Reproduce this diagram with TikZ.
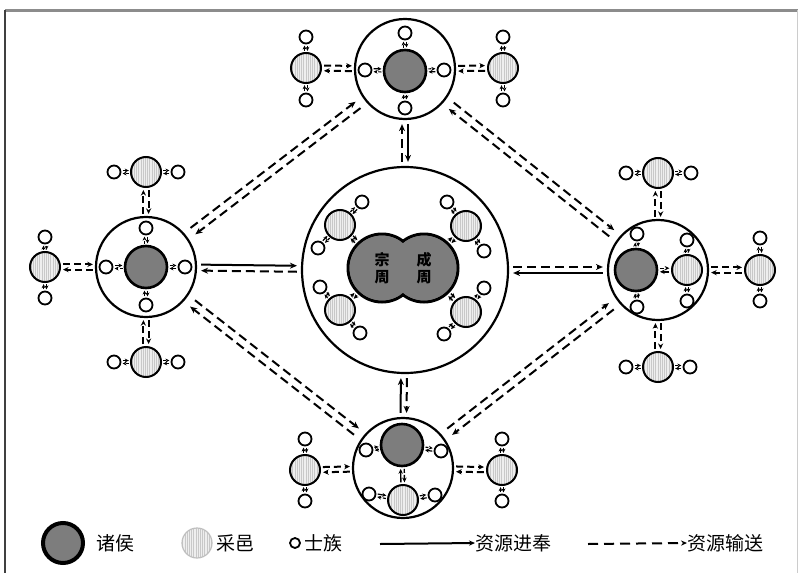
\documentclass[tikz,border=0pt]{standalone}
\usepackage{fontspec}
\setmainfont{Noto Sans CJK SC}
\usetikzlibrary{arrows.meta,calc,patterns.meta}

\definecolor{hougray}{RGB}{125,125,125}
\definecolor{yigray}{RGB}{238,238,238}
\definecolor{yistripe}{RGB}{200,200,200}
\definecolor{framegray}{RGB}{140,140,140}

\tikzset{
  guo/.style={circle, draw, line width=1.1pt, minimum size=50pt, inner sep=0pt},
  hou/.style={circle, draw, line width=1.3pt, fill=hougray, minimum size=21pt, inner sep=0pt},
  yi/.style={circle, draw, line width=1pt, minimum size=15pt, inner sep=0pt, preaction={fill=yigray},
    pattern={Lines[angle=90,distance=1.1pt,line width=0.3pt]}, pattern color=yistripe},
  shi/.style={circle, draw, line width=0.9pt, fill=white, minimum size=6.5pt, inner sep=0pt},
  zhou/.style={align=center, inner sep=0pt, font=\bfseries\fontsize{7.5pt}{8.5pt}\selectfont},
  jin/.style={line width=1pt, -{Stealth[length=3.5pt,width=3pt]}, shorten <=2pt, shorten >=2pt},
  song/.style={jin, dash pattern=on 4.5pt off 2.5pt},
  songjiao/.style={song, shorten <=4pt, shorten >=4pt},
  songmid/.style={line width=1pt, -{Stealth[length=2.8pt,width=2.6pt]}, dash pattern=on 3.5pt off 2pt, shorten <=1pt, shorten >=1pt},
  jinsm/.style={line width=0.7pt, -{Stealth[length=2.4pt,width=2.2pt]}, shorten <=0.8pt, shorten >=0.8pt},
  songsm/.style={jinsm, dash pattern=on 2pt off 1pt},
  jinxs/.style={line width=0.6pt, -{Stealth[length=2pt,width=1.9pt]}, shorten <=0.6pt, shorten >=0.6pt},
  songxs/.style={jinxs, dash pattern=on 1.5pt off 0.8pt},
  legendtext/.style={anchor=west, inner sep=0pt, font=\fontsize{9.5pt}{11pt}\selectfont},
}

% #1 lower node, #2 upper node, #3 style up, #4 style down, #5 half gap
\newcommand\liu[5]{%
  \path let \p1=($(#1.east)-(#1.center)$), \p2=($(#2.east)-(#2.center)$) in
    ($(#1)!\x1!(#2)!#5!90:(#2)$) coordinate (la)
    ($(#2)!\x2!(#1)!#5!-90:(#1)$) coordinate (lb)
    ($(#1)!\x1!(#2)!#5!-90:(#2)$) coordinate (lc)
    ($(#2)!\x2!(#1)!#5!90:(#1)$) coordinate (ld);
  \draw[#3] (la) -- (lb);
  \draw[#4] (ld) -- (lc);
}

\begin{document}
\begin{tikzpicture}[x=0.5pt,y=-0.5pt]
\useasboundingbox (0,0) rectangle (798,573);
% frame
\draw[framegray, line width=1.5pt] (5,10) -- (798,10);
\draw[black!75, line width=0.8pt] (5,10) -- (5,573);
\draw[black!20, line width=0.5pt] (797,10) -- (797,573);

% centre
\node[guo, minimum size=103pt] (wangji) at (405,270) {};
\node[hou, minimum size=34pt, line width=1.5pt] (zl) at (382,268) {};
\node[hou, minimum size=34pt, line width=1.5pt] (zr) at (424,268) {};
\fill[hougray] (zl.center) circle[radius=16.2pt] (zr.center) circle[radius=16.2pt];
\node[zhou] (zongzhou) at (zl) {宗\\周};
\node[zhou] (chengzhou) at (zr) {成\\周};
\node[yi] (yC1) at (340,225) {};
\node[yi] (yC2) at (466,226) {};
\node[yi] (yC3) at (340,310) {};
\node[yi] (yC4) at (466,312) {};
\foreach \n/\x/\y in {sC1/362/202,sC2/318/248,sC3/447/202,sC4/484/251,sC5/320/287,sC6/360/333,sC7/484/288,sC8/444/334}
  \node[shi] (\n) at (\x,\y) {};
\foreach \a/\b in {yC1/zl,yC2/zr,yC3/zl,yC4/zr} \liu{\a}{\b}{jinsm}{songsm}{0.9pt};
\foreach \a/\b in {sC1/yC1,sC2/yC1,sC3/yC2,sC4/yC2,sC5/yC3,sC6/yC3,sC7/yC4,sC8/yC4} \liu{\a}{\b}{jinxs}{songxs}{0.75pt};

% top
\node[guo] (guoN) at (405,69) {};
\node[hou] (hN) at (405,71) {};
\node[yi] (yN1) at (306,68) {};
\node[yi] (yN2) at (503,68) {};
\foreach \n/\x/\y in {sN1/405/33,sN2/365/70,sN3/444/70,sN4/405/108,sN5/306/37,sN6/306/100,sN7/503/37,sN8/503/100}
  \node[shi] (\n) at (\x,\y) {};
\foreach \i in {1,...,4} \liu{sN\i}{hN}{jinxs}{songxs}{0.75pt};
\foreach \a/\b in {sN5/yN1,sN6/yN1,sN7/yN2,sN8/yN2} \liu{\a}{\b}{jinxs}{songxs}{0.75pt};
\liu{yN1}{guoN}{songmid}{songmid}{1.3pt};
\liu{yN2}{guoN}{songmid}{songmid}{1.3pt};

% left
\node[guo] (guoW) at (146,267) {};
\node[hou] (hW) at (146,267) {};
\node[yi] (yW1) at (146,172) {};
\node[yi] (yW2) at (45,267) {};
\node[yi] (yW3) at (146,362) {};
\foreach \n/\x/\y in {sW1/146/228,sW2/106/267,sW3/185/267,sW4/146/305,sW5/114/172,sW6/178/172,sW7/45/237,sW8/45/298,sW9/114/362,sW10/178/362}
  \node[shi] (\n) at (\x,\y) {};
\foreach \i in {1,...,4} \liu{sW\i}{hW}{jinxs}{songxs}{0.75pt};
\foreach \a/\b in {sW5/yW1,sW6/yW1,sW7/yW2,sW8/yW2,sW9/yW3,sW10/yW3} \liu{\a}{\b}{jinxs}{songxs}{0.75pt};
\foreach \a in {yW1,yW2,yW3} \liu{\a}{guoW}{songmid}{songmid}{1.3pt};

% right
\node[guo] (guoE) at (658,270) {};
\node[hou] (hE) at (636,270) {};
\node[yi] (yE0) at (687,270) {};
\node[yi] (yE1) at (658,173) {};
\node[yi] (yE2) at (760,270) {};
\node[yi] (yE3) at (658,367) {};
\foreach \n/\x/\y in {sE1/637/234,sE2/637/307,sE3/687/240,sE4/687/301,sE5/626/173,sE6/691/173,sE7/760/238,sE8/760/301,sE9/626/367,sE10/690/367}
  \node[shi] (\n) at (\x,\y) {};
\liu{yE0}{hE}{jinsm}{songsm}{0.9pt};
\foreach \a/\b in {sE1/hE,sE2/hE,sE3/yE0,sE4/yE0,sE5/yE1,sE6/yE1,sE7/yE2,sE8/yE2,sE9/yE3,sE10/yE3} \liu{\a}{\b}{jinxs}{songxs}{0.75pt};
\foreach \a in {yE1,yE2,yE3} \liu{\a}{guoE}{songmid}{songmid}{1.3pt};

% bottom
\node[guo] (guoS) at (403,468) {};
\node[hou] (hS) at (402,445) {};
\node[yi] (yS0) at (403,500) {};
\node[yi] (yS1) at (305,470) {};
\node[yi] (yS2) at (502,470) {};
\foreach \n/\x/\y in {sS1/366/450,sS2/441/451,sS3/369/494,sS4/435/495,sS5/305/439,sS6/305/501,sS7/502/439,sS8/502/501}
  \node[shi] (\n) at (\x,\y) {};
\liu{yS0}{hS}{jinsm}{songsm}{0.9pt};
\foreach \a/\b in {sS1/hS,sS2/hS,sS3/yS0,sS4/yS0,sS5/yS1,sS6/yS1,sS7/yS2,sS8/yS2} \liu{\a}{\b}{jinxs}{songxs}{0.75pt};
\foreach \a in {yS1,yS2} \liu{\a}{guoS}{songmid}{songmid}{1.3pt};

% tribute and supply between the domains
\foreach \a in {guoN,guoW,guoE,guoS} \liu{\a}{wangji}{jin}{song}{1.5pt};
\liu{guoW}{guoN}{songjiao}{songjiao}{2pt};
\liu{guoN}{guoE}{songjiao}{songjiao}{2pt};
\liu{guoS}{guoW}{songjiao}{songjiao}{2pt};
\liu{guoE}{guoS}{songjiao}{songjiao}{2pt};

% legend
\node[hou, minimum size=20pt, line width=2pt] (lgHou) at (63,543) {};
\node[legendtext] (tHou) at (96,543) {诸侯};
\node[yi, draw=gray!50, line width=0.6pt] (lgYi) at (197,543) {};
\node[legendtext] (tYi) at (216,543) {采邑};
\node[shi, minimum size=5pt] (lgShi) at (295,543) {};
\node[legendtext] (tShi) at (304,543) {士族};
\coordinate (lgJin) at (380,544);
\node[legendtext] (tJin) at (475,543) {资源进奉};
\draw[line width=1pt, -{Stealth[length=3pt,width=2.6pt]}] (lgJin) -- (tJin.west);
\coordinate (lgSong) at (588,544);
\node[legendtext] (tSong) at (687,543) {资源输送};
\draw[line width=1pt, dash pattern=on 5pt off 3pt, -{Stealth[length=3pt,width=2.6pt]}] (lgSong) -- (tSong.west);
\end{tikzpicture}
\end{document}
